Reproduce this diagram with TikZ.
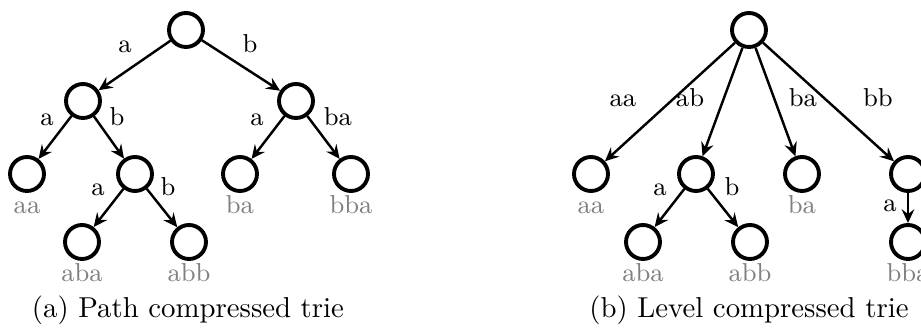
\documentclass[tikz,border=0pt]{standalone}
\usetikzlibrary{arrows.meta}
\begin{document}
\begin{tikzpicture}[x=0.3472pt, y=-0.3472pt,
  vtx/.style={circle, draw, line width=1.35pt, minimum size=11.8pt, inner sep=0pt},
  edge/.style={line width=0.85pt, -{Stealth[length=4.8pt, width=4.4pt, inset=1.7pt]}},
  lbl/.style={anchor=base, inner sep=0pt, font=\small},
  key/.style={anchor=base, inner sep=0pt, font=\small, text=black!50},
  figcaption/.style={anchor=base, inner sep=0pt}]
\useasboundingbox (0,0) rectangle (921,329);
\clip (0,0) rectangle (921,329);

% (a) path compressed trie
\node[vtx] (pr)   at (186,30)  {};
\node[vtx] (pa)   at (83,101)  {};
\node[vtx] (pb)   at (296,101) {};
\node[vtx] (paa)  at (27,174)  {};
\node[vtx] (pab)  at (135,174) {};
\node[vtx] (pba)  at (240,174) {};
\node[vtx] (pbb)  at (351,174) {};
\node[vtx] (paba) at (82,242)  {};
\node[vtx] (pabb) at (189,242) {};

\draw[edge] (pr)  -- (pa);
\draw[edge] (pr)  -- (pb);
\draw[edge] (pa)  -- (paa);
\draw[edge] (pa)  -- (pab);
\draw[edge] (pab) -- (paba);
\draw[edge] (pab) -- (pabb);
\draw[edge] (pb)  -- (pba);
\draw[edge] (pb)  -- (pbb);

\node[lbl] (pl1) at (125,53)  {a};
\node[lbl] (pl2) at (250,53)  {b};
\node[lbl] (pl3) at (47,126)  {a};
\node[lbl] (pl4) at (117,126) {b};
\node[lbl] (pl5) at (98,196)  {a};
\node[lbl] (pl6) at (168,196) {b};
\node[lbl] (pl7) at (257,126) {a};
\node[lbl] (pl8) at (338,126) {ba};

\node[key] (pk1) at (27,214)  {aa};
\node[key] (pk2) at (240,214) {ba};
\node[key] (pk3) at (351,214) {bba};
\node[key] (pk4) at (82,282)  {aba};
\node[key] (pk5) at (189,282) {abb};

\node[figcaption] (pcap) at (188,318) {(a) Path compressed trie};

% (b) level compressed trie
\node[vtx] (lr)   at (749,30)  {};
\node[vtx] (laa)  at (591,174) {};
\node[vtx] (lab)  at (696,174) {};
\node[vtx] (lba)  at (802,174) {};
\node[vtx] (lbb)  at (908,174) {};
\node[vtx] (laba) at (643,242) {};
\node[vtx] (labb) at (750,242) {};
\node[vtx] (lbba) at (908,242) {};

\draw[edge] (lr)  -- (laa);
\draw[edge] (lr)  -- (lab);
\draw[edge] (lr)  -- (lba);
\draw[edge] (lr)  -- (lbb);
\draw[edge] (lab) -- (laba);
\draw[edge] (lab) -- (labb);
\draw[edge] (lbb) -- (lbba);

\node[lbl] (ll1) at (623,107) {aa};
\node[lbl] (ll2) at (690,107) {ab};
\node[lbl] (ll3) at (803,107) {ba};
\node[lbl] (ll4) at (878,107) {bb};
\node[lbl] (ll5) at (660,196) {a};
\node[lbl] (ll6) at (732,196) {b};
\node[lbl] (ll7) at (890,212) {a};

\node[key] (lk1) at (591,214) {aa};
\node[key] (lk2) at (802,214) {ba};
\node[key] (lk3) at (643,282) {aba};
\node[key] (lk4) at (750,282) {abb};
\node[key] (lk5) at (908,282) {bba};

\node[figcaption] (lcap) at (749,318) {(b) Level compressed trie};
\end{tikzpicture}
\end{document}
